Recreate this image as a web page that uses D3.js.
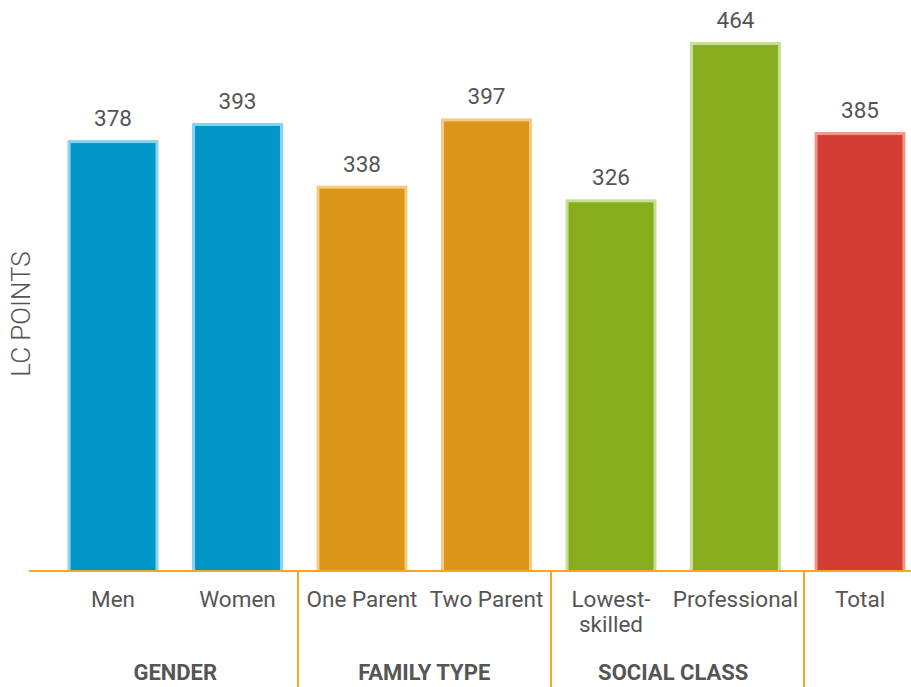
<!DOCTYPE html>
<html>
<head>
<meta charset="utf-8">
<script src="https://cdn.jsdelivr.net/npm/d3@7"></script>
<style>
  body { margin: 0; background: #fff; }
  svg { display: block; font-family: Roboto, "Open Sans", sans-serif; }
</style>
</head>
<body>
<div class="chart"></div>
<script>
// data
const categories = ["Men", "Women", "One Parent", "Two Parent", "Lowest-skilled", "Professional", "Total"];
const labelLines = [["Men"], ["Women"], ["One Parent"], ["Two Parent"], ["Lowest-", "skilled"], ["Professional"], ["Total"]];
const values = [378, 393, 338, 397, 326, 464, 385];
const groupOf = ["GENDER", "GENDER", "FAMILY TYPE", "FAMILY TYPE", "SOCIAL CLASS", "SOCIAL CLASS", ""];
const groups = ["GENDER", "FAMILY TYPE", "SOCIAL CLASS"];
const dividerSlots = [2, 4, 6];

const fills = {GENDER: "#0096c8", "FAMILY TYPE": "#dc9518", "SOCIAL CLASS": "#87ad1e", "": "#d23c32"};
const rims = {GENDER: "#86d3f0", "FAMILY TYPE": "#f3ca84", "SOCIAL CLASS": "#c6de93", "": "#f0958c"};

const width = 911, height = 687;
const baseY = 571;

const svg = d3.select(".chart").append("svg")
    .attr("width", width)
    .attr("height", height);

const x = d3.scaleBand()
    .domain(categories)
    .range([50.75, 922.25])
    .paddingInner(0.27)
    .paddingOuter(0.135);

const y = d3.scaleLinear()
    .domain([0, 500])
    .range([baseY, 1]);

// slots for the group dividers under the axis
const slot = d3.scaleLinear().domain([2, 6]).range([298, 804]);

// bars: light rim with inset fill (bevel look)
const bar = svg.append("g")
    .selectAll("g")
    .data(values)
    .join("g");

bar.append("rect")
    .attr("x", (d, i) => x(categories[i]))
    .attr("y", d => y(d))
    .attr("width", x.bandwidth())
    .attr("height", d => baseY - y(d))
    .attr("fill", (d, i) => rims[groupOf[i]]);

bar.append("rect")
    .attr("x", (d, i) => x(categories[i]) + 3)
    .attr("y", d => y(d) + 3)
    .attr("width", x.bandwidth() - 6)
    .attr("height", d => baseY - y(d) - 3)
    .attr("fill", (d, i) => fills[groupOf[i]]);

// value labels
svg.append("g")
    .selectAll("text")
    .data(values)
    .join("text")
    .attr("x", (d, i) => x(categories[i]) + x.bandwidth() / 2)
    .attr("y", d => y(d) - 14)
    .attr("text-anchor", "middle")
    .attr("fill", "#555")
    .style("font-size", "22.5px")
    .text(d => d);

// axis line and dividers
const axisColor = "#f5a623";
svg.append("line")
    .attr("x1", 29).attr("x2", width)
    .attr("y1", baseY).attr("y2", baseY)
    .attr("stroke", axisColor)
    .attr("stroke-width", 2);

svg.append("g")
    .selectAll("line")
    .data(dividerSlots)
    .join("line")
    .attr("x1", d => slot(d)).attr("x2", d => slot(d))
    .attr("y1", baseY).attr("y2", height)
    .attr("stroke", axisColor)
    .attr("stroke-width", 2);

// category labels
const catText = svg.append("g")
    .selectAll("text")
    .data(labelLines)
    .join("text")
    .attr("x", (d, i) => x(categories[i]) + x.bandwidth() / 2)
    .attr("y", 607)
    .attr("text-anchor", "middle")
    .attr("fill", "#555")
    .style("font-size", "22.5px");

catText.selectAll("tspan")
    .data(d => d)
    .join("tspan")
    .attr("x", function() { return this.parentNode.getAttribute("x"); })
    .attr("dy", (d, j) => j === 0 ? 0 : 25)
    .text(d => d);

// group labels
svg.append("g")
    .selectAll("text")
    .data(groups)
    .join("text")
    .attr("x", g => {
        const idx = categories.filter((c, i) => groupOf[i] === g);
        return d3.mean(idx, c => x(c) + x.bandwidth() / 2);
    })
    .attr("y", 680)
    .attr("text-anchor", "middle")
    .attr("fill", "#555")
    .style("font-size", "22px")
    .style("font-weight", "bold")
    .text(g => g);

// y axis title
svg.append("text")
    .attr("transform", "translate(30,314) rotate(-90)")
    .attr("text-anchor", "middle")
    .attr("fill", "#555")
    .style("font-size", "26px")
    .style("font-weight", "300")
    .text("LC POINTS");
</script>
</body>
</html>
